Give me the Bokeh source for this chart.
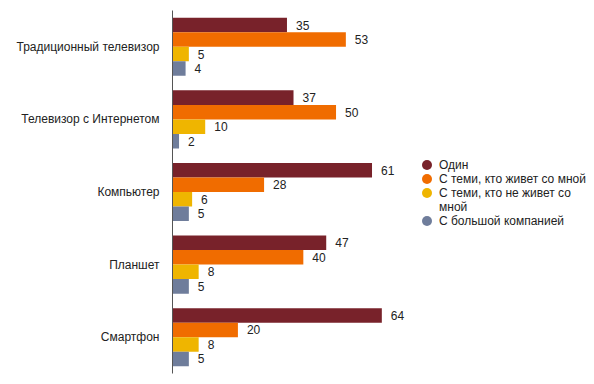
from bokeh.plotting import figure
from bokeh.models import ColumnDataSource, Legend, LegendItem, Range1d, FactorRange
from bokeh.transform import dodge
from bokeh.core.properties import value
from bokeh.embed import file_html
from bokeh.resources import INLINE

devices = ["Традиционный телевизор", "Телевизор с Интернетом", "Компьютер", "Планшет", "Смартфон"]
series_names = ["Один", "С теми, кто живет со мной", "С теми, кто не живет со", "С большой компанией"]
wrapped_tail = {2: "мной"}
alone = [35, 37, 61, 47, 64]
with_household = [53, 50, 28, 40, 20]
with_others = [5, 10, 6, 8, 8]
big_company = [4, 2, 5, 5, 5]
colors = ["#78222a", "#f06c00", "#efb500", "#6f7d9b"]

FONT = "Liberation Sans"

p = figure(width=590, height=376, output_backend="svg", toolbar_location=None,
           y_range=FactorRange(factors=list(reversed(devices)), range_padding=0),
           x_range=Range1d(0, 127.8),
           min_border_left=172, min_border_right=0, min_border_top=10, min_border_bottom=3)
p.outline_line_color = None
p.xgrid.visible = False
p.ygrid.visible = False
p.xaxis.visible = False
p.background_fill_color = "white"
p.border_fill_color = "white"

yax = p.yaxis[0]
yax.axis_line_color = "#555555"
yax.major_tick_line_color = None
yax.minor_tick_line_color = None
yax.major_tick_out = 0
yax.major_tick_in = 0
yax.major_label_standoff = 13
yax.major_label_text_font = FONT
yax.major_label_text_font_size = "12px"
yax.major_label_text_color = "#222222"

src = ColumnDataSource(dict(device=devices, s0=alone, s1=with_household, s2=with_others, s3=big_company,
                            t0=[str(v) for v in alone], t1=[str(v) for v in with_household],
                            t2=[str(v) for v in with_others], t3=[str(v) for v in big_company]))

offsets = [0.3, 0.1, -0.1, -0.3]
items = []
for i, (off, col, name) in enumerate(zip(offsets, colors, series_names)):
    ydodge = dodge("device", off, range=p.y_range)
    p.hbar(y=ydodge, right=f"s{i}", left=0, height=0.2, source=src,
           fill_color=col, line_color=None)
    p.text(x=f"s{i}", y=ydodge, text=f"t{i}", source=src, x_offset=9,
           text_baseline="middle", text_align="left", text_font=value(FONT),
           text_font_size="12px", text_color="#222222")
    marker = p.circle(x=f"s{i}", y=ydodge, source=src, radius=0, radius_units="screen",
                      fill_color=col, line_color=None)
    items.append(LegendItem(label=name, renderers=[marker]))
    if i in wrapped_tail:
        blank = p.circle(x=f"s{i}", y=ydodge, source=src, radius=0, radius_units="screen",
                         fill_alpha=0, line_color=None)
        items.append(LegendItem(label=wrapped_tail[i], renderers=[blank]))

# one single-line legend per text line so the line pitch can be tighter than the glyph box
LEG_X, LEG_TOP_Y, LEG_PITCH = 242, 196.5, 14
for k, item in enumerate(items):
    leg = Legend(items=[item], location=(LEG_X, int(round(LEG_TOP_Y - k * LEG_PITCH))),
                 orientation="vertical", border_line_color=None, background_fill_alpha=0,
                 padding=0, margin=0, spacing=0,
                 glyph_width=25, glyph_height=25, label_standoff=-2,
                 label_text_font=FONT, label_text_font_size="12px",
                 label_text_color="#222222", label_height=14)
    p.add_layout(leg, "center")

open("out.html", "w").write(file_html(p, INLINE))
